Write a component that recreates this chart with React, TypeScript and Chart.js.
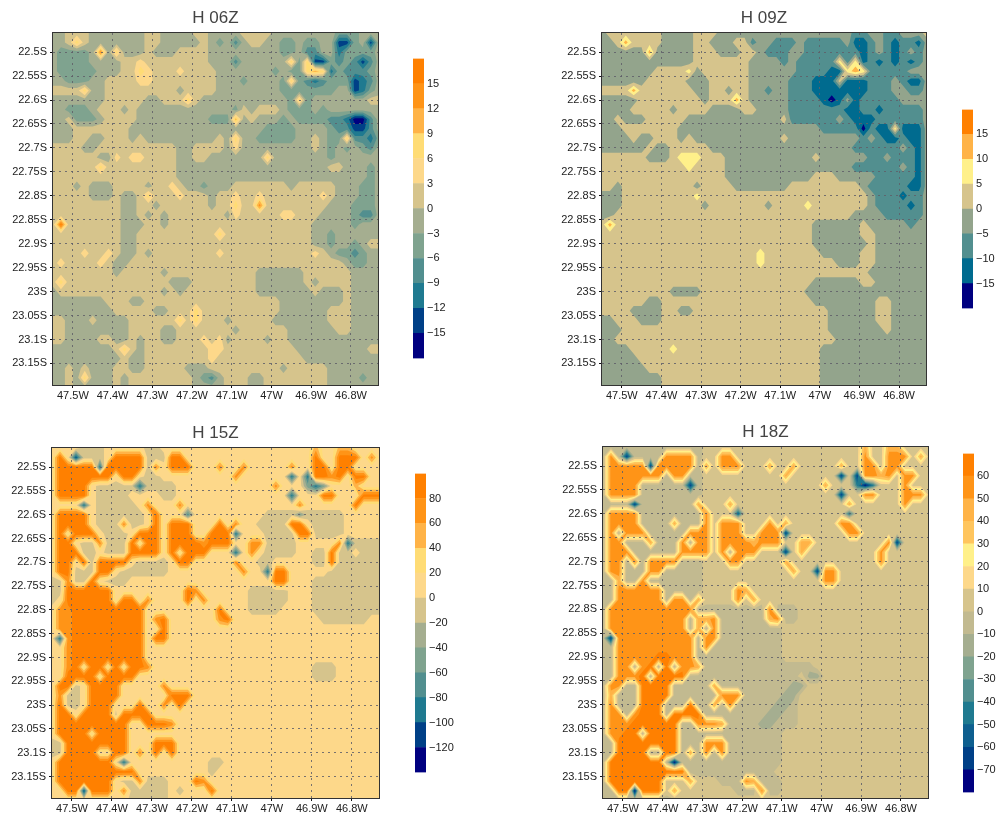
import React, { useEffect, useRef } from "react";
import { Chart, registerables } from "chart.js";

Chart.register(...registerables);

// ---- Shared axes ----
const lonTicks = [-47.5, -47.4, -47.3, -47.2, -47.1, -47, -46.9, -46.8];
const latTicks = [-22.5, -22.55, -22.6, -22.65, -22.7, -22.75, -22.8, -22.85, -22.9, -22.95, -23, -23.05, -23.1, -23.15];
const lonStart = -47.55;
const latStart = -22.46;
const gridStep = 0.02;

// ---- Contour levels (colour-bar tick labels) ----
const levels06 = [-15, -12, -9, -6, -3, 0, 3, 6, 9, 12, 15];
const levels09 = [-15, -10, -5, 0, 5, 10, 15];
const levels15 = [-120, -100, -80, -60, -40, -20, 0, 20, 40, 60, 80];
const levels18 = [-70, -60, -50, -40, -30, -20, -10, 0, 10, 20, 30, 40, 50, 60];

// ---- Band colours, lowest band first ----
const colors12 = ["#000080", "#004087", "#1f7a90", "#528f8f", "#7fa38f", "#a5ae90", "#d6c48c", "#fdd88a", "#ffdc75", "#ffb347", "#ff9417", "#ff8000"];
const colors8 = ["#000080", "#006b8f", "#528f8f", "#93a48c", "#d6c48c", "#fff08a", "#ffb347", "#ff8000"];
const colors15 = ["#000080", "#004087", "#0e5f8f", "#1f7a90", "#528f8f", "#7fa38f", "#a5ae90", "#c2ba90", "#d6c48c", "#fdd88a", "#fff08a", "#ffc55e", "#ffb347", "#ff9417", "#ff8000"];

// ---- Gridded fields. One row per latitude, north first;
// each character is the colour band (hex index) at a node; "c*n" repeats c. ----
const field06 = [
  "55 666 5555555 66 5555 66 5555 6666 5*8 444 555",
  "55686 5555555 66 55555 6 5 4 5 3 5 66 55 44 5 44 55 11 4 5 1 5",
  "5 4444 5 A 5 8 555 6 555 6666 5*9 44 5 33 55 2 4 44 4 5",
  "5 4444 5555 66 7 6*8 555 3 555 555 8 4 8 11 4 3 4 3 1 3 5",
  "5 4444 4 55 5 66 8 7 666 7 6666 555 5555 4 5 4 4 8 9 8 2 4 3 3 3 4 5",
  "55 444 5 5 6666 7 7 6*8 555 4 5555 4 8 4 3 2 3 44 4 1 2 3 5",
  "666 6 8 55 6*8 6 5 666 6 5555 5555 4*7 55 1 2 4 5",
  "5*7 66666 55 666 8 6 5*11 4 8 4 5*7 66",
  "55 444 5 6 66 5 6 555 5 5*8 4 6 5 666 5 444 5 4 5*7",
  "55 6 44 4 5 666 6 5*9 444 9 5 6 555 4 5 4444 3 3 2 0 0 3 5",
  "555 6*7 5*15 55 4444 5555 4 3 3 1 1 3 5",
  "555 66 55 666 5 6 5 5*8 6 5 8 5 5 44444 55 6 5 44 8 3 3 2 4",
  "6666 55 6*9 6 55 6666 5 7 5 5*8 6 5 4 5 4 5 4 3 5",
  "666666 55 7 6 77 6666 55 66 55555 55 8 5*7 4 5*6",
  "666666 8 6*9 5*9 5*10 66 555 4 5",
  "6*16 5*9 5*15 4 5",
  "666 5 6 555 6 666 5 66 7 6 55 4 555 6*7 5 6*5 555 44 5",
  "6666 6 555 6 55 6 8 666 7 666 5 66 7 66 7 6*7 7 6 555 44 5",
  "6*9 55 66 5 6*6 5 66 8 66 A 6*7 6 55 5 4 44 5",
  "6*9 55 6 5 6 5 6*7 5 7 6*5 77 666 55 55 4 3 3 5",
  "6 B 6*7 555 66 5 6*18 55555 4 5 5 5",
  "6*9 55 6*10 8 6*11 55 4 5*6",
  "6*9 55 6*22 5 5 4 55 4 5 66",
  "6666 7 66 7 6 55 6 5 6*8 7 6*11 7 6 5 4 4 3 4 5 5",
  "6 7 6666 7 6 55 6*27 5 4 4 55",
  "6*8 5 6*5 5 6*11 5*6 6*6 5555",
  "6 8 6*13 555 6*8 555555 6 5 6666 5555",
  "5 6*13 5 6 5 6*9 5*7 6 555 6 5555",
  "5*7 666 55 6*14 666 5*8 6 5555",
  "5*8 6*5 55 666 8 6*9 6 5*6 666 5555",
  "66 555 6 5555 6*6 8 6 8 666 5 66666 5 5*6 666 5555",
  "66 5*8 6666 55 6*7 5 6*6 5*6 66 5555",
  "66 5555 66 55 6 5 66 55 666 7 6 7 5 6666 5 66 5*12",
  "5*8 6 8 6 5 6*8 77 6*9 5*9 66",
  "5*9 6 55 6*8 7 6*11 5*10",
  "55 6 5 6 555 66 55 6*5 555 6*9 5 6*5 5*7",
  "55 6 5 8 555 6 5 6 6*7 5 4 3 5 666 55 6*8 5555 4 55",
  "55655555 6 5 6*8 5555 666 55 6*8 5*7",
];

const field09 = [
  "3 4*7 3333 444 333 33 3*12 22 33 22 33 3 4",
  "33 4 6 4 444 3333 44 333 44 2 3 3 222 3 22222 3 11 2 3 2 1 2 2 1 3",
  "3*6 6 3333 3 444 333 44 3 2 22 3 3 2*7 1 2 3 2 1 2 3 2 3",
  "3*12 4*7 33 33 2 3 22222 5 2 5 1 2 1 2 1 2 1 2 3",
  "3*7 4444 5 3 4*6 333 333 2222 11 5 6 5 2*5 333",
  "3*6 4*5 333 4*5 33 333 222 111 4 111 222 3 2 11 3",
  "4444 6 4*7 33 44 3 44 33 2 33 222 11 1 1111 222 33 22 3",
  "3*5 4*8 3 444 6 4 3*5 2222 1 0 1 3 1 22222 3333",
  "3333 44444 3 4444 3 333 4 4 3333 2*7 11 22 1 22 222 3",
  "33 4 333 44444 3*12 4 2*6 3 2 111 22 2 222 3",
  "333 4*7 3*18 2222 2 0 2 11 5 11 1 3",
  "3333 4 33 444 3 4 3*9 33 4 3*9 2 3 2 11 2 11 3",
  "333333 4 33 44444 3*11 3*7 2*6 3 2 1 3",
  "444444 333 4 555 444 3*9 33 4 3*6 22 3 222 1 3",
  "444444 4 4444 5 4444 3*9 3*7 2*6 3 2 1 3",
  "4*16 3*11 444 3333 3 2*5 1 3",
  "44 3 4*9 3 4444 3*7 4*9 3 22 2 22 11 3",
  "333 4*9 5 4*21 3 22 2 1 22 3",
  "333 4*10 3 4*7 3 4444 5 4*7 3 2222 1 2 3",
  "33 4*30 333 3 2222 2 3",
  "464 4*24 3*6 4 33 333 2 33",
  "4*27 3*6 44 3*7",
  "4*27 3*7 4 3*7",
  "4*20 5 4*7 33333 44 3*7",
  "4*20 5 4*9 333 44 3*7",
  "4*34 3*8",
  "4*27 3*6 44 3*7",
  "4*9 3333 4*13 3*16",
  "4*6 33 4*19 3*8 44 3*5",
  "4*4 3333 44 33 4*17 3*6 44 3*5",
  "33 444 333 4*21 3*6 44 3*5",
  "333 4*26 3*7 4 3*5",
  "33 4*28 3*12",
  "3333 4*5 5 4*18 3*14",
  "3*5 4*23 3*14",
  "3*6 4*22 3*14",
  "3*8 4*20 3*14",
  "3*8 4*20 3*14",
];

const field15 = [
  "7777 666 77777 66 7*11 7*8 9 77 99 7777",
  "7 B 7 1 6 66 7 BBBB 666 BB 7*16 B 77 BBB 7 A 7",
  "7 BBBBB 2 BBBBB 6 A 7 BBB 777 A 77 A 7*5 A 7 7 BB 7 BB 7777",
  "7 B*6 B 7 BB 7 66 7*9 A 7777 7 7 2 7 2 BB A B 7 BB 77",
  "7 BBBB 7 6*5 2 6666 7*9 777 A 777 4 2 4 7 77 9 777",
  "7 BBBB 7 6666 7777 66 7*9 7*5 2 7 77 BB 777 BBB 7",
  "7777 2 7 6*5 7 A 777 A 7*8 7*6 A 7 7*5 B 777",
  "7 BBBB 7 6*6 7 B 7 77 3 7*7 77 6666 4 6*5 7*5",
  "7 BBBB 7 666 A 66 7 B 7 BBB 777 B 7 A 7 7 6666 BB 7 6666 7*5",
  "7 B 7 BBB 7 666 7 BBB 7 BBB 77 BBB 2 7 77 6666 BB 6666 7*5",
  "7 BB 7 66 A 666 B 7 BB 7 BBBB A BBB 7 7 AA 6666 7777 7 A 2 6666",
  "7 BBB 66 7 666 BBBB 7 B 7 BBB 7 77 2 7 A 7 6666 77 66 B 6 6 7 666",
  "7 BB 7 B 6 BBBB 7 6666 7 BB 7*5 A 7 7 66 7*5 66 B 6*6",
  "7 BB 666 BB 7 6*6 7*8 7 A 77 2 BB 7 77 77 6*7",
  "66 A 66 B 7 666 7*15 777 BB 777 6*9",
  "66 B*6 7 7 7*7 B A 7*6 66 666 777 6*9",
  "6 7 B*6 7 BB 7 A 7777 B 7 A 7*5 6*5 777 6*9",
  "7 AA B*9 7 7 7*7 B 777 6666 7777 6*9",
  "7 AA B*9 7 A B 7*6 A B 77 7*9 6*6 77",
  "7 AA B*9 7 7 B 7*10 7*17",
  "7 2 A B*9 7 BB 7*27",
  "77 A B*9 7*30",
  "77 A B*9 7*30",
  "7 7 A B 7 BB 7 B 7 BB A 7*20 666 7*6",
  "77 B*4 7 B*4 7*22 666 7*6",
  "7 BB 6 7 B*4 7*5 A 7*27",
  "7 A 66 7 B*4 7*6 BBB 7*24",
  "7 B 66 7 BBB 777 B 77 A 7 B 7*25",
  "7 BB 7 B*4 6 B*4 7*29",
  "7 B*9 77 BBB A 7*26",
  "7 B*4 7 B*4 7*32",
  "66 B*8 777 BBB 7*26",
  "66 B*4 77 BB 7 A 7 B 7 B 7*26",
  "7 B*7 7 2 7*10 66 7*20",
  "7 B*10 7*9 6 7*21",
  "7 B*7 7 66 A 666 777 B A 7*22",
  "77 B B 1 BBB 7 A 6*5 7 6 777 B 7*21",
  "7*10 6*5 7*27",
];

const field18 = [
  "7*13 8*20 C 88 CC 8888",
  "7 D 7 1 7 77 7 DDDD 7 88 DD 8*16 D 88 DDD 8 C 8",
  "7 DDDDD 1 DDDDD 7 C 8 DDD 888 C 88 C 88888 C 8 8 DD 8 DD 8888",
  "7 D*7 7 DD 7 7 8 8*9 C 8888 8 8 1 8 1 DD C D 8 DD 88",
  "7 DDDD 7 77777 1 7 888 8*9 888 C 888 3 0 3 8 88 D 888",
  "7 DDDD 7 7777 777 8 88 8*9 8*5 1 88 DD 888 DDD 8",
  "7777 1 7 77777 7 C 888 C 8*8 8*6 C 8 88888 D 888",
  "7 DDDD 7 7*6 7 D 8 88 2 8*7 88 8888 3 8*5 8*5",
  "7 DDDD 7 777 C 77 7 D 8 DDD 888 D 8 C 8 8 8888 DD 8 8888 8*5",
  "7 D 7 DDD 7 777 7 DDD 8 DDD 88 DDD 1 8 88 8888 DD 8888 8*5",
  "7 DD 7 77 C 777 D 7 DD 8 DDDD C DDD 8 8 CC 8888 8888 8 D 1 8888",
  "7 DDD 77 7 777 DDDD 8 D 7 DDD 8 88 1 8 C 8 8888 88 88 D 8 8 8 888",
  "7 DD 7 D 7 DDDD 7 77 88 8 DD 8*5 C 88 88 8*5 88 D 8*6",
  "7 DD 777 DD 7 7777 88 8*8 8 C 88 1 DD 8 88 88 8*7",
  "77 C 77 D 7 777 777 8*12 888 DD 888 8*9",
  "77 D*6 7 7 777 8888 D C 8*6 88 888 888 8*9",
  "77 D*6 7 DD 7 C 8888 D 8 C 8*5 8*17",
  "7 DD D*9 7 7 7*7 D 777 8*17",
  "7 DD D*8 7 C C D 7*6 C D 77 8*17",
  "7 DD D*8 7 C 7 D 7*8 8*19",
  "7 1 D D*9 7 DD 7*8 8*19",
  "77 D*10 7 D 7*9 8*19",
  "77 DDDDD EE DDD 7*11 8*19",
  "77 D D 7 D E 7 E 7 DD C 7*14 8*15",
  "77 DD D E 7 EEEE 7*14 8 66 8*14",
  "7 DD 7 7 EEEE 77777 C 7*9 6 6 8*16",
  "7 C 77 7 EEEE 7*6 DDD 7*5 66 8*17",
  "7 D 77 7 EEE 777 E 77 C 7 D 7*5 66 7 8*17",
  "7 DD 7 DEEE 7 EEEE 7*8 66 77 8*17",
  "7 DDDEEEEEE 77 DDD C 7*4 66 777 8*17",
  "7 DDEE 7 EEEE 7*13 8*19",
  "77 E*8 777 DDD 7*7 8*19",
  "77 EEEE 77 EE 7 C 7 D 7 D 7*7 8*19",
  "7 E*7 7 0 7*13 8*19",
  "7 E*10 7*11 8*20",
  "7 E*7 8 88 C 888 777 D C 7*3 8*19",
  "77 EE 0 EEE 8 C 88888 8 8 777 D 77 8*19",
  "7*10 8*32",
];

// ---- Layout ----
type Box = { left: number; right: number; top: number; bottom: number };
const panels = [
  { title: "H 06Z", field: field06, levels: levels06, colors: colors12, blur: 0, area: { left: 53, right: 378, top: 33, bottom: 385 }, canvasLeft: 0, canvasTop: 0, bar: { left: 413, right: 424, top: 57, bottom: 360 } },
  { title: "H 09Z", field: field09, levels: levels09, colors: colors8, blur: 0, area: { left: 602, right: 926, top: 33, bottom: 385 }, canvasLeft: 550, canvasTop: 0, bar: { left: 962, right: 973, top: 108, bottom: 310 } },
  { title: "H 15Z", field: field15, levels: levels15, colors: colors12, blur: 0.7, area: { left: 52, right: 379, top: 448, bottom: 798 }, canvasLeft: 0, canvasTop: 415, bar: { left: 415, right: 426, top: 472, bottom: 774 } },
  { title: "H 18Z", field: field18, levels: levels18, colors: colors15, blur: 0.7, area: { left: 603, right: 928, top: 447, bottom: 798 }, canvasLeft: 550, canvasTop: 415, bar: { left: 963, right: 974, top: 452, bottom: 794 } },
];

const tickFont = { family: "'Liberation Sans', sans-serif", size: 11 };
const minus = (v: number) => String(v).replace("-", "\u2212");

function decodeRow(row: string, cols: number): number[] {
  const text = row
    .split(" ")
    .map((g) => (g.includes("*") ? g[0].repeat(Number(g.slice(2))) : g))
    .join("");
  return text.padEnd(cols, text[text.length - 1]).slice(0, cols).split("").map((c) => parseInt(c, 16));
}

function buildPoints(field: string[], levels: number[]) {
  const step = levels[1] - levels[0];
  const points: { x: number; y: number; v: number }[] = [];
  field.forEach((row, j) => {
    decodeRow(row, 42).forEach((band, i) => {
      points.push({
        x: lonStart + gridStep * i,
        y: latStart - gridStep * j,
        v: levels[0] - step / 2 + band * step,
      });
    });
  });
  return points;
}

type Vtx = [number, number, number];
function clipPoly(poly: Vtx[], t: number): Vtx[] {
  const out: Vtx[] = [];
  for (let k = 0; k < poly.length; k++) {
    const a = poly[k];
    const b = poly[(k + 1) % poly.length];
    const ain = a[2] >= t;
    const bin = b[2] >= t;
    if (ain) out.push(a);
    if (ain !== bin) {
      const f = (t - a[2]) / (b[2] - a[2]);
      out.push([a[0] + (b[0] - a[0]) * f, a[1] + (b[1] - a[1]) * f, t]);
    }
  }
  return out;
}

function contourPlugin(levels: number[], colors: string[], cols: number, blur: number) {
  return {
    id: "contourFill",
    beforeDatasetsDraw(chart: any) {
      const { ctx, chartArea, scales, width, height } = chart;
      const pts = chart.data.datasets[0].data as { x: number; y: number; v: number }[];
      const rows = Math.floor(pts.length / cols);
      const px = pts.map((p) => [scales.x.getPixelForValue(p.x), scales.y.getPixelForValue(p.y), p.v] as Vtx);
      const off = document.createElement("canvas");
      off.width = width;
      off.height = height;
      const o = off.getContext("2d") as CanvasRenderingContext2D;
      o.fillStyle = colors[0];
      o.fillRect(0, 0, width, height);
      levels.forEach((t, idx) => {
        o.beginPath();
        for (let j = 0; j < rows - 1; j++) {
          for (let i = 0; i < cols - 1; i++) {
            const q = [px[j * cols + i], px[j * cols + i + 1], px[(j + 1) * cols + i + 1], px[(j + 1) * cols + i]];
            const poly = clipPoly(q, t);
            if (poly.length < 3) continue;
            o.moveTo(poly[0][0], poly[0][1]);
            for (let k = 1; k < poly.length; k++) o.lineTo(poly[k][0], poly[k][1]);
            o.closePath();
          }
        }
        o.fillStyle = colors[idx + 1];
        o.fill();
      });
      ctx.save();
      ctx.beginPath();
      ctx.rect(chartArea.left, chartArea.top, chartArea.right - chartArea.left, chartArea.bottom - chartArea.top);
      ctx.clip();
      ctx.drawImage(off, 0, 0);
      if (blur > 0) {
        ctx.filter = `blur(${blur}px)`;
        ctx.drawImage(off, 0, 0);
        ctx.filter = "none";
      }
      ctx.restore();
    },
    afterDraw(chart: any) {
      const { ctx, chartArea: a } = chart;
      ctx.save();
      ctx.strokeStyle = "#333333";
      ctx.lineWidth = 1;
      ctx.strokeRect(a.left - 0.5, a.top - 0.5, a.right - a.left + 1, a.bottom - a.top + 1);
      ctx.restore();
    },
  };
}

const gridLine = { z: 1, color: "rgba(95,95,105,0.85)", tickColor: "#111111", tickLength: 3, lineWidth: 1 };

function MapPanel({ title, field, levels, colors, area, canvasLeft, canvasTop, blur }: any) {
  const ref = useRef<HTMLCanvasElement | null>(null);
  const center = (area.left + area.right) / 2;
  const width = Math.round(2 * (center - canvasLeft));
  const height = area.bottom + 30 - canvasTop;
  useEffect(() => {
    const titleHeight = 20.4;
    const gap = area.top - canvasTop - titleHeight;
    const chart = new Chart(ref.current as HTMLCanvasElement, {
      type: "scatter",
      data: {
        datasets: [{ label: title, data: buildPoints(field, levels), pointRadius: 0, showLine: false }],
      },
      options: {
        animation: false,
        responsive: false,
        events: [],
        layout: { padding: 0 },
        plugins: {
          legend: { display: false },
          tooltip: { enabled: false },
          title: {
            display: true,
            text: title,
            color: "#444444",
            font: { family: "'Liberation Sans', sans-serif", size: 17, weight: "normal", lineHeight: 1.2 },
            padding: { top: gap * 0.62, bottom: gap * 0.38 },
          },
        },
        scales: {
          x: {
            type: "linear",
            min: -47.55,
            max: -46.732,
            afterBuildTicks: (s: any) => {
              s.ticks = lonTicks.map((value) => ({ value }));
            },
            afterFit: (s: any) => {
              s.height = height + canvasTop - area.bottom;
            },
            ticks: {
              autoSkip: false,
              maxRotation: 0,
              padding: 1,
              color: "#222222",
              font: tickFont,
              callback: (v: any) => `${Math.abs(v)}W`,
            },
            grid: gridLine,
            border: { display: false, dash: [2, 4] },
          },
          y: {
            type: "linear",
            min: -23.195,
            max: -22.46,
            afterBuildTicks: (s: any) => {
              s.ticks = latTicks.map((value) => ({ value }));
            },
            afterFit: (s: any) => {
              s.width = area.left - canvasLeft;
            },
            ticks: {
              autoSkip: false,
              padding: 3,
              color: "#222222",
              font: tickFont,
              callback: (v: any) => `${Math.abs(v)}S`,
            },
            grid: gridLine,
            border: { display: false, dash: [2, 4] },
          },
          spacer: {
            type: "linear",
            position: "right",
            afterFit: (s: any) => {
              s.width = canvasLeft + width - area.right;
            },
            ticks: { display: false },
            grid: { display: false, drawTicks: false },
            border: { display: false },
          },
        },
      } as any,
      plugins: [contourPlugin(levels, colors, 42, blur)],
    });
    return () => chart.destroy();
  }, []);
  return (
    <canvas
      ref={ref}
      width={width}
      height={height}
      style={{ position: "absolute", left: canvasLeft, top: canvasTop, width, height }}
    />
  );
}

function ColorBar({ levels, colors, bar }: { levels: number[]; colors: string[]; bar: Box }) {
  const ref = useRef<HTMLCanvasElement | null>(null);
  const pad = 8;
  const axisWidth = 22 + 14;
  const width = bar.right - bar.left + axisWidth;
  const height = bar.bottom - bar.top + 2 * pad;
  useEffect(() => {
    const step = levels[1] - levels[0];
    const edges = [levels[0] - step, ...levels, levels[levels.length - 1] + step];
    const chart = new Chart(ref.current as HTMLCanvasElement, {
      type: "bar",
      data: {
        labels: [""],
        datasets: colors.map((c, i) => ({
          label: String(edges[i]),
          data: [[edges[i], edges[i + 1]]],
          backgroundColor: c,
          borderWidth: 0,
          barPercentage: 1,
          categoryPercentage: 1,
        })),
      },
      options: {
        animation: false,
        responsive: false,
        events: [],
        layout: { padding: { top: pad, bottom: pad, left: 0, right: 0 } },
        plugins: { legend: { display: false }, tooltip: { enabled: false }, title: { display: false } },
        scales: {
          x: { stacked: true, display: false },
          y: {
            position: "right",
            min: edges[0],
            max: edges[edges.length - 1],
            afterBuildTicks: (s: any) => {
              s.ticks = levels.map((value) => ({ value }));
            },
            afterFit: (s: any) => {
              s.width = axisWidth;
            },
            grid: { display: false, drawTicks: false },
            border: { display: false },
            ticks: {
              autoSkip: false,
              padding: 3,
              color: "#222222",
              font: tickFont,
              callback: (v: any) => minus(v),
            },
          },
        },
      } as any,
    });
    return () => chart.destroy();
  }, []);
  return (
    <canvas
      ref={ref}
      width={width}
      height={height}
      style={{ position: "absolute", left: bar.left, top: bar.top - pad, width, height }}
    />
  );
}

export default function App() {
  return (
    <div style={{ position: "absolute", left: 0, top: 0, width: 997, height: 816, overflow: "hidden", background: "#fff" }}>
      {panels.map((p) => (
        <MapPanel key={p.title} {...p} />
      ))}
      {panels.map((p) => (
        <ColorBar key={p.title} levels={p.levels} colors={p.colors} bar={p.bar} />
      ))}
    </div>
  );
}
